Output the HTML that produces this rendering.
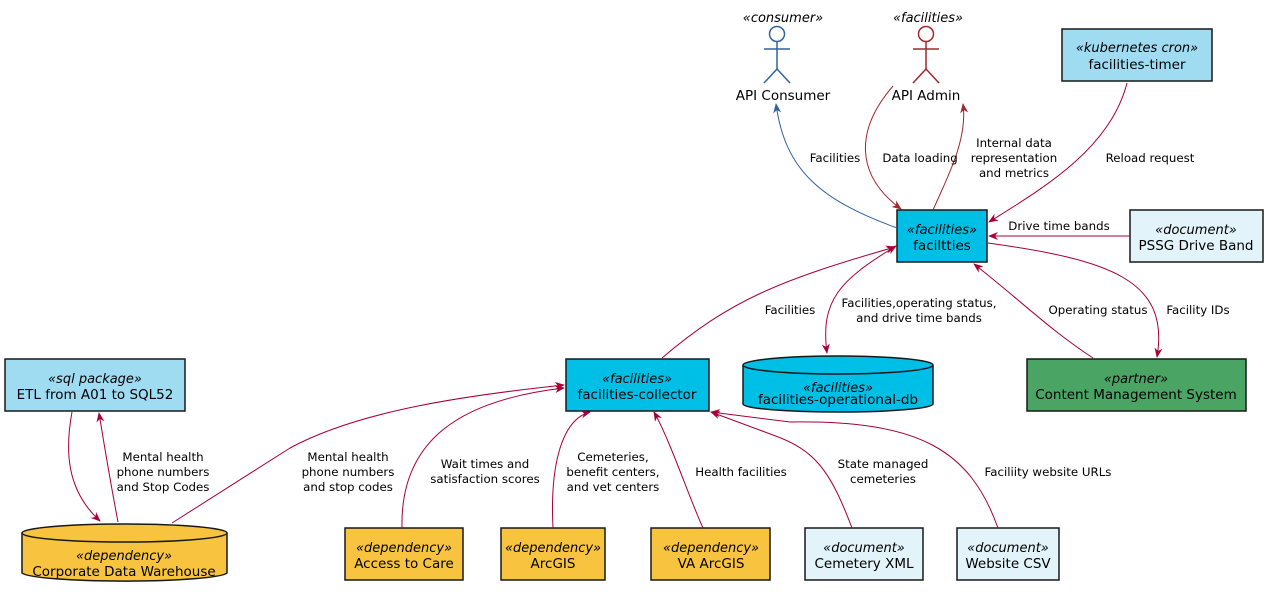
<!DOCTYPE html>
<html><head><meta charset="utf-8"><style>
html,body{margin:0;padding:0;background:#fff;}
svg{display:block;}
text{font-family:"DejaVu Sans","Liberation Sans",sans-serif;fill:#000;}
.n{font-size:13.5px;}
.s{font-size:13px;font-style:italic;}
.l{font-size:11.8px;}
.box{stroke:#181818;stroke-width:1.5;}
.e{fill:none;stroke:#a80036;stroke-width:1;}
</style></head><body>
<svg width="1272" height="596" viewBox="0 0 1272 596" xmlns="http://www.w3.org/2000/svg">
<defs>
<marker id="a" viewBox="0 0 10 8" refX="9" refY="4" markerWidth="10" markerHeight="8" orient="auto-start-reverse" markerUnits="userSpaceOnUse"><path d="M0,0 L10,4 L0,8 L3,4 Z" fill="#a80036"/></marker>
<marker id="b" viewBox="0 0 10 8" refX="9" refY="4" markerWidth="10" markerHeight="8" orient="auto-start-reverse" markerUnits="userSpaceOnUse"><path d="M0,0 L10,4 L0,8 L3,4 Z" fill="#2f63a0"/></marker>
<marker id="r" viewBox="0 0 10 8" refX="9" refY="4" markerWidth="10" markerHeight="8" orient="auto-start-reverse" markerUnits="userSpaceOnUse"><path d="M0,0 L10,4 L0,8 L3,4 Z" fill="#a0282c"/></marker>
</defs>

<!-- Actors -->
<text class="s" x="783" y="22" text-anchor="middle">«consumer»</text>
<g fill="none" stroke="#2f63a0" stroke-width="1.5">
<circle cx="777" cy="34" r="7.5"/><line x1="777" y1="41" x2="777" y2="69"/><line x1="764" y1="49" x2="790" y2="49"/><line x1="764" y1="83" x2="777" y2="69"/><line x1="790" y1="83" x2="777" y2="69"/>
</g>
<text class="n" x="783" y="100" text-anchor="middle">API Consumer</text>
<text class="s" x="928" y="22" text-anchor="middle">«facilities»</text>
<g fill="none" stroke="#a0282c" stroke-width="1.5">
<circle cx="926" cy="34" r="7.5"/><line x1="926" y1="41" x2="926" y2="69"/><line x1="913" y1="49" x2="939" y2="49"/><line x1="913" y1="83" x2="926" y2="69"/><line x1="939" y1="83" x2="926" y2="69"/>
</g>
<text class="n" x="926" y="100" text-anchor="middle">API Admin</text>

<!-- Boxes -->
<rect class="box" x="1062" y="29" width="150" height="52" fill="#9fdcf2"/>
<text class="s" x="1137" y="52" text-anchor="middle">«kubernetes cron»</text>
<text class="n" x="1137" y="69" text-anchor="middle">facilities-timer</text>

<rect class="box" x="897" y="210" width="90" height="52" fill="#00bfe6"/>
<text class="s" x="942" y="234" text-anchor="middle">«facilities»</text>
<text class="n" x="942" y="250" text-anchor="middle">faciltties</text>

<rect class="box" x="1130" y="210" width="133" height="52" fill="#e2f3fa"/>
<text class="s" x="1196" y="234" text-anchor="middle">«document»</text>
<text class="n" x="1196" y="250" text-anchor="middle">PSSG Drive Band</text>

<rect class="box" x="1027" y="359" width="219" height="52" fill="#4aa564"/>
<text class="s" x="1136" y="383" text-anchor="middle">«partner»</text>
<text class="n" x="1136" y="399" text-anchor="middle">Content Management System</text>

<rect class="box" x="566" y="359" width="143" height="52" fill="#00bfe6"/>
<text class="s" x="637" y="383" text-anchor="middle">«facilities»</text>
<text class="n" x="637" y="399" text-anchor="middle">facilities-collector</text>

<g class="box" fill="#00bfe6">
<path d="M743,365 L743,404 A95,8 0 0 0 933,404 L933,365"/>
<ellipse cx="838" cy="365" rx="95" ry="9"/>
</g>
<text class="s" x="838" y="392" text-anchor="middle">«facilities»</text>
<text class="n" x="838" y="408" text-anchor="middle" dy="-4">facilities-operational-db</text>

<rect class="box" x="5" y="359" width="180" height="52" fill="#9fdcf2"/>
<text class="s" x="95" y="383" text-anchor="middle">«sql package»</text>
<text class="n" x="95" y="399" text-anchor="middle">ETL from A01 to SQL52</text>

<g class="box" fill="#f8c440">
<path d="M22,533 L22,573 A103,9 0 0 0 227,573 L227,533"/>
<ellipse cx="124.5" cy="533" rx="102.5" ry="9"/>
</g>
<text class="s" x="124" y="560" text-anchor="middle">«dependency»</text>
<text class="n" x="124" y="576" text-anchor="middle">Corporate Data Warehouse</text>

<rect class="box" x="345" y="528" width="118" height="52" fill="#f8c440"/>
<text class="s" x="404" y="552" text-anchor="middle">«dependency»</text>
<text class="n" x="404" y="568" text-anchor="middle">Access to Care</text>

<rect class="box" x="501" y="528" width="104" height="52" fill="#f8c440"/>
<text class="s" x="553" y="552" text-anchor="middle">«dependency»</text>
<text class="n" x="553" y="568" text-anchor="middle">ArcGIS</text>

<rect class="box" x="651" y="528" width="119" height="52" fill="#f8c440"/>
<text class="s" x="711" y="552" text-anchor="middle">«dependency»</text>
<text class="n" x="711" y="568" text-anchor="middle">VA ArcGIS</text>

<rect class="box" x="805" y="528" width="118" height="52" fill="#e2f3fa"/>
<text class="s" x="864" y="552" text-anchor="middle">«document»</text>
<text class="n" x="864" y="568" text-anchor="middle">Cemetery XML</text>

<rect class="box" x="957" y="528" width="102" height="52" fill="#e2f3fa"/>
<text class="s" x="1008" y="552" text-anchor="middle">«document»</text>
<text class="n" x="1008" y="568" text-anchor="middle">Website CSV</text>

<!-- Edges -->
<path d="M897,228 C820,200 785,170 776,104" fill="none" stroke="#2f63a0" marker-end="url(#b)"/>
<path d="M893,86 C855,130 855,175 901,209" fill="none" stroke="#a0282c" marker-end="url(#r)"/>
<path d="M933,210 C946,180 968,140 963,104" fill="none" stroke="#a0282c" marker-end="url(#r)"/>
<path class="e" d="M1127,83 C1110,150 1040,190 989,222" marker-end="url(#a)"/>
<path class="e" d="M1130,236 L989,236" marker-end="url(#a)"/>
<path class="e" d="M988,243 C1110,260 1170,280 1157,357" marker-end="url(#a)"/>
<path class="e" d="M1093,358 C1050,330 1020,300 974,264" marker-end="url(#a)"/>
<path class="e" d="M896,246 C840,280 820,300 827,353" marker-start="url(#a)" marker-end="url(#a)"/>
<path class="e" d="M662,358 C730,300 780,280 895,247" marker-end="url(#a)"/>
<path class="e" d="M172,523 L290,448 C360,410 470,395 564,385" marker-end="url(#a)"/>
<path class="e" d="M402,528 C400,440 460,400 564,388" marker-end="url(#a)"/>
<path class="e" d="M553,528 C550,470 560,420 590,412" marker-end="url(#a)"/>
<path class="e" d="M703,528 C690,500 670,440 654,412" marker-end="url(#a)"/>
<path class="e" d="M852,528 C830,470 815,450 773,435 L711,412" marker-end="url(#a)"/>
<path class="e" d="M998,528 C970,450 920,420 790,422 L711,412" marker-end="url(#a)"/>
<path class="e" d="M72,412 C65,450 66,490 100,521" marker-end="url(#a)"/>
<path class="e" d="M118,522 C110,480 105,450 99,413" marker-end="url(#a)"/>

<!-- Labels -->
<g class="l" text-anchor="middle">
<text x="835" y="162">Facilities</text>
<text x="920" y="162">Data loading</text>
<text x="1014" y="147">Internal data</text>
<text x="1014" y="162">representation</text>
<text x="1014" y="177">and metrics</text>
<text x="1150" y="162">Reload request</text>
<text x="1059" y="230">Drive time bands</text>
<text x="790" y="314">Facilities</text>
<text x="919" y="307">Facilities,operating status,</text>
<text x="919" y="322">and drive time bands</text>
<text x="1098" y="314">Operating status</text>
<text x="1198" y="314">Facility IDs</text>
<text x="163" y="461">Mental health</text>
<text x="163" y="476">phone numbers</text>
<text x="163" y="491">and Stop Codes</text>
<text x="348" y="461">Mental health</text>
<text x="348" y="476">phone numbers</text>
<text x="348" y="491">and stop codes</text>
<text x="485" y="468">Wait times and</text>
<text x="485" y="483">satisfaction scores</text>
<text x="613" y="461">Cemeteries,</text>
<text x="613" y="476">benefit centers,</text>
<text x="613" y="491">and vet centers</text>
<text x="741" y="476">Health facilities</text>
<text x="883" y="468">State managed</text>
<text x="883" y="483">cemeteries</text>
<text x="1048" y="476">Faciliity website URLs</text>
</g>
</svg>
</body></html>
